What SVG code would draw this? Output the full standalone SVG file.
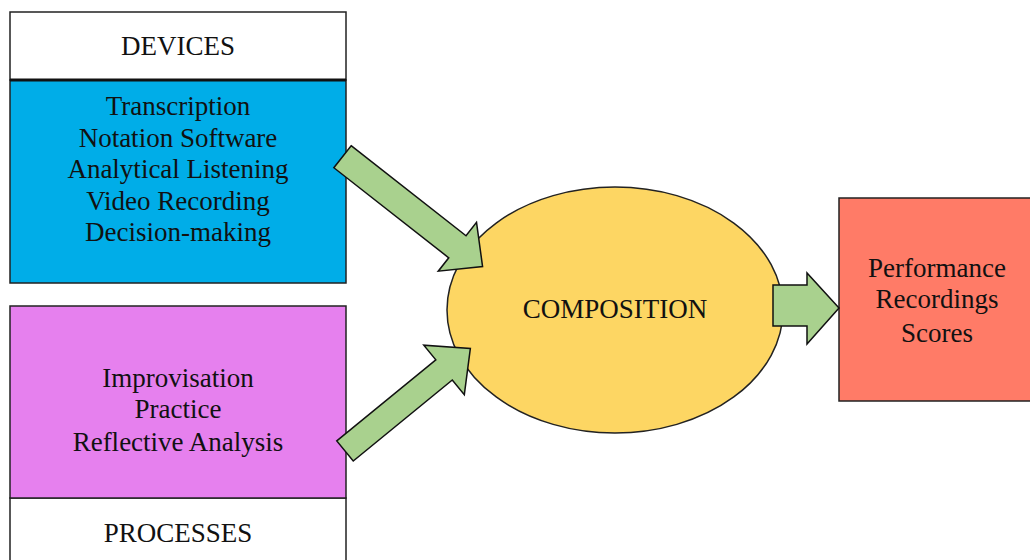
<svg xmlns="http://www.w3.org/2000/svg" width="1030" height="560" viewBox="0 0 1030 560">
<style>
.box{stroke:#222;stroke-width:1.5}
.t{font-family:"Liberation Serif","Times New Roman",serif;font-size:27px;fill:#111;text-anchor:middle}
.arr{fill:#A9D18E;stroke:#111;stroke-width:1.5;stroke-linejoin:miter}
</style>
<rect width="1030" height="560" fill="#fff"/>
<g id="devices">
<rect class="box" x="10" y="12" width="336" height="68" fill="#fff"/>
<rect class="box" x="10" y="80" width="336" height="203" fill="#00ADE8"/>
<line x1="10" y1="80" x2="346" y2="80" stroke="#111" stroke-width="3"/>
<text class="t" x="178" y="55">DEVICES</text>
<text class="t" x="178" y="115">Transcription</text>
<text class="t" x="178" y="147">Notation Software</text>
<text class="t" x="178" y="178">Analytical Listening</text>
<text class="t" x="178" y="210">Video Recording</text>
<text class="t" x="178" y="241">Decision-making</text>
</g>
<g id="processes">
<rect class="box" x="10" y="498" width="336" height="80" fill="#fff"/>
<rect class="box" x="10" y="306" width="336" height="192" fill="#E680EE"/>
<text class="t" x="178" y="387">Improvisation</text>
<text class="t" x="178" y="418">Practice</text>
<text class="t" x="178" y="451">Reflective Analysis</text>
<text class="t" x="178" y="542">PROCESSES</text>
</g>
<g id="composition">
<ellipse class="box" cx="615" cy="310" rx="168" ry="123" fill="#FDD663"/>
<text class="t" x="615" y="318">COMPOSITION</text>
</g>
<g id="outputs">
<rect class="box" x="839" y="198" width="200" height="203" fill="#FF7B67"/>
<text class="t" x="937" y="277">Performance</text>
<text class="t" x="937" y="308">Recordings</text>
<text class="t" x="937" y="342">Scores</text>
</g>
<g id="connectors">
<polygon class="arr" transform="translate(342.5,156.7) rotate(38.1)" points="0,-14 146,-14 146,-31 178,0 146,31 146,14 0,14"/>
<polygon class="arr" transform="translate(345,451) rotate(-39.3)" points="0,-13 128,-13 128,-32 162,0 128,32 128,13 0,13"/>
<polygon class="arr" points="773,285 807,285 807,273 839,308 807,344 807,326 773,326"/>
</g>
</svg>
